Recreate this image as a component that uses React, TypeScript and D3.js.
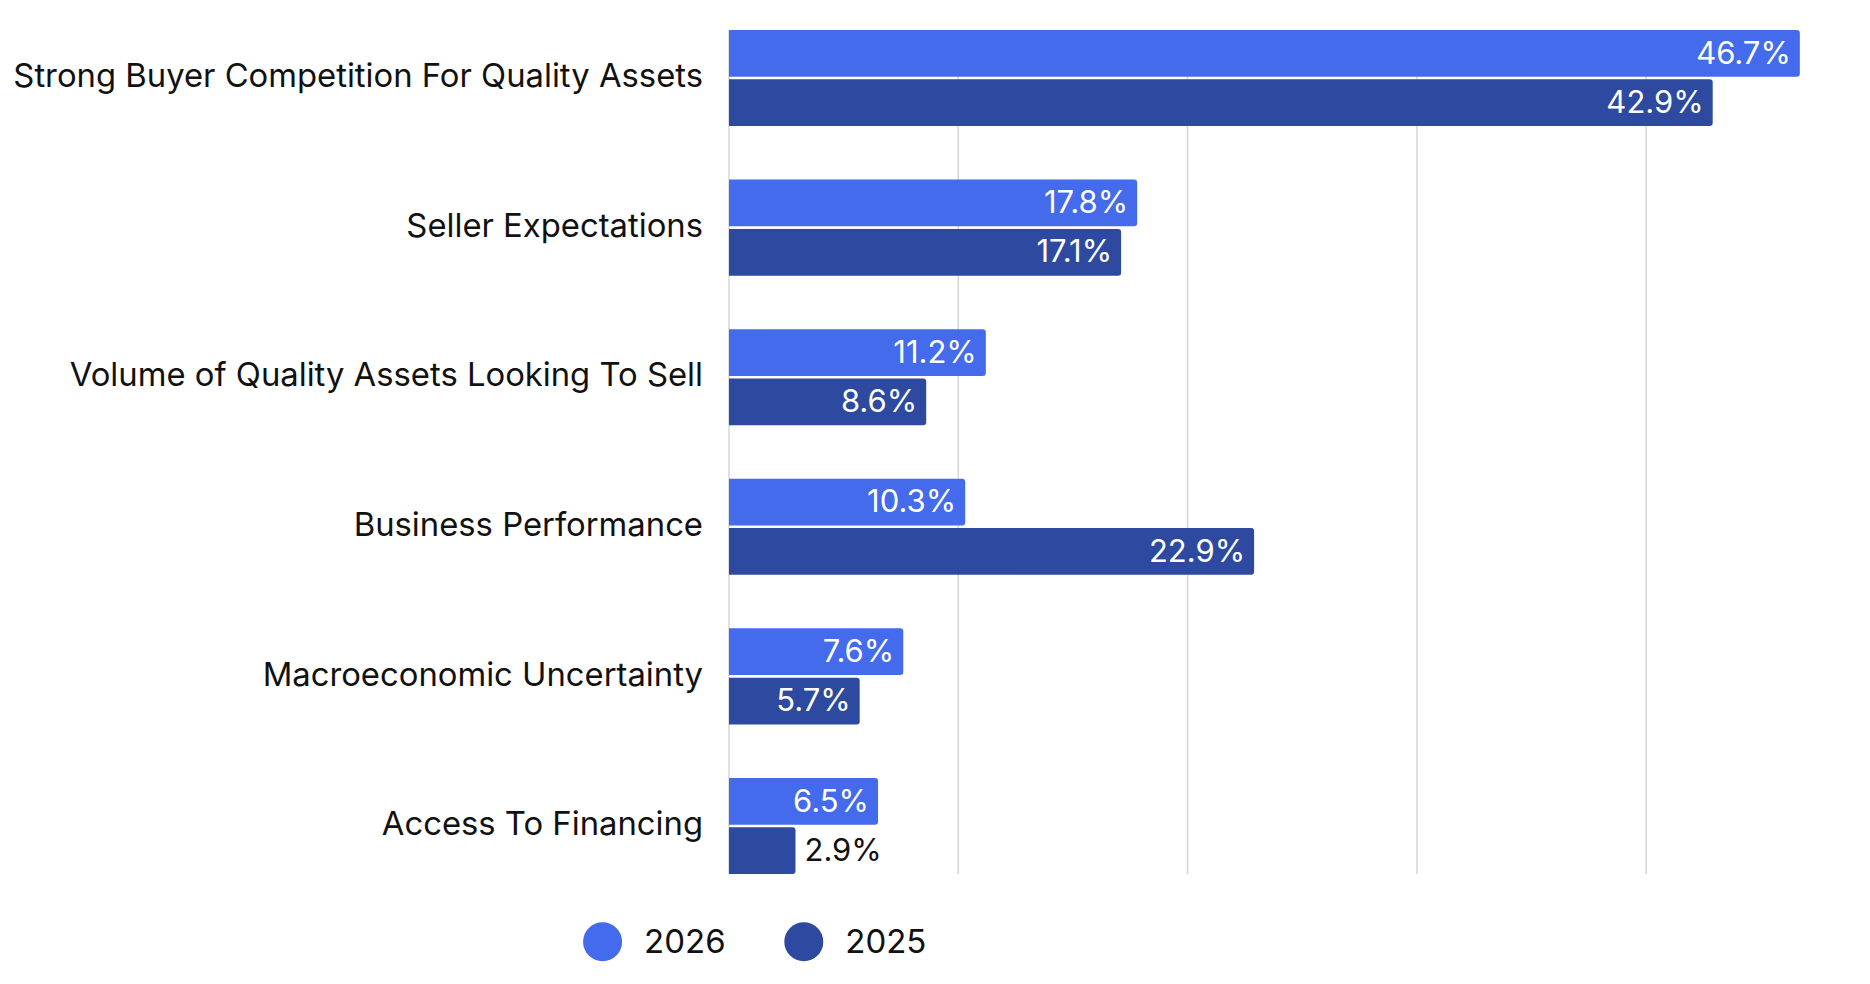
import { useEffect, useRef } from 'react';
import * as d3 from 'd3';

const categories = [
  'Strong Buyer Competition For Quality Assets',
  'Seller Expectations',
  'Volume of Quality Assets Looking To Sell',
  'Business Performance',
  'Macroeconomic Uncertainty',
  'Access To Financing',
];
const seriesNames = ['2026', '2025'];
const values2026 = [46.7, 17.8, 11.2, 10.3, 7.6, 6.5];
const values2025 = [42.9, 17.1, 8.6, 22.9, 5.7, 2.9];
const gridTicks = [0, 10, 20, 30, 40];

const COLORS = ['#436bec', '#2d4aa0'];
const WIDTH = 1870;
const HEIGHT = 984;
const FONT = 'Inter, "Noto Sans", sans-serif';

export default function App() {
  const svgRef = useRef<SVGSVGElement>(null);

  useEffect(() => {
    if (!svgRef.current) return;
    const svg = d3.select(svgRef.current);
    svg.selectAll('*').remove();

    const plotLeft = 729;
    const plotTop = 30;
    const plotBottom = 874;

    const x = d3.scaleLinear().domain([0, 50]).range([plotLeft, plotLeft + 22.93 * 50]);
    const y0 = d3.scaleBand<string>()
      .domain(categories)
      .range([plotTop, plotBottom])
      .paddingInner(0.358)
      .paddingOuter(0);
    const y1 = d3.scaleBand<string>()
      .domain(seriesNames)
      .range([0, y0.bandwidth()])
      .paddingInner(0.053);

    // grid
    svg.append('g')
      .selectAll('line')
      .data(gridTicks)
      .enter()
      .append('line')
      .attr('x1', d => x(d))
      .attr('x2', d => x(d))
      .attr('y1', plotTop)
      .attr('y2', plotBottom)
      .attr('stroke', '#d6d6d6')
      .attr('stroke-width', 1.5);

    const rows = categories.map((c, i) => ({
      category: c,
      bars: [
        { series: seriesNames[0], value: values2026[i], color: COLORS[0] },
        { series: seriesNames[1], value: values2025[i], color: COLORS[1] },
      ],
    }));

    const r = 3;
    const barPath = (x0: number, x1: number, yt: number, h: number) => {
      const w = x1 - x0;
      return `M${x0},${yt}H${x0 + w - r}Q${x1},${yt} ${x1},${yt + r}V${yt + h - r}Q${x1},${yt + h} ${x1 - r},${yt + h}H${x0}Z`;
    };

    const groups = svg.append('g')
      .selectAll('g')
      .data(rows)
      .enter()
      .append('g')
      .attr('transform', d => `translate(0,${y0(d.category)})`);

    groups.selectAll('path')
      .data(d => d.bars)
      .enter()
      .append('path')
      .attr('d', d => barPath(x(0), x(d.value), y1(d.series) || 0, y1.bandwidth()))
      .attr('fill', d => d.color);

    groups.each(function (row) {
      const g = d3.select(this);
      row.bars.forEach(b => {
        const yc = (y1(b.series) || 0) + y1.bandwidth() / 2;
        const t = g.append('text')
          .attr('y', yc)
          .attr('dy', '0.33em')
          .attr('font-family', FONT)
          .attr('font-size', 31)
          .text(`${b.value}%`);
        const tw = (t.node() as SVGTextElement).getComputedTextLength();
        const barW = x(b.value) - x(0);
        if (tw + 20 < barW) {
          t.attr('x', x(b.value) - 9).attr('text-anchor', 'end').attr('fill', '#ffffff');
        } else {
          t.attr('x', x(b.value) + 9).attr('text-anchor', 'start').attr('fill', '#111111');
        }
      });
    });

    // category labels
    svg.append('g')
      .selectAll('text')
      .data(categories)
      .enter()
      .append('text')
      .attr('x', plotLeft - 26)
      .attr('y', d => (y0(d) || 0) + y0.bandwidth() / 2)
      .attr('dy', '0.28em')
      .attr('text-anchor', 'end')
      .attr('font-family', FONT)
      .attr('font-size', 32.8)
      .attr('fill', '#111111')
      .text(d => d);

    // legend
    const legendX = [602.6, 803.8];
    const legendY = 941.7;
    const legend = svg.append('g')
      .selectAll('g')
      .data(seriesNames)
      .enter()
      .append('g')
      .attr('transform', (_d, i) => `translate(${legendX[i]},${legendY})`);
    legend.append('circle')
      .attr('r', 19.5)
      .attr('fill', (_d, i) => COLORS[i]);
    legend.append('text')
      .attr('x', 41.5)
      .attr('dy', '0.35em')
      .attr('font-family', FONT)
      .attr('font-size', 33)
      .attr('fill', '#111111')
      .text(d => d);
  }, []);

  return (
    <svg
      ref={svgRef}
      width={WIDTH}
      height={HEIGHT}
      style={{ position: 'absolute', left: 0, top: 0, background: '#ffffff' }}
    />
  );
}
